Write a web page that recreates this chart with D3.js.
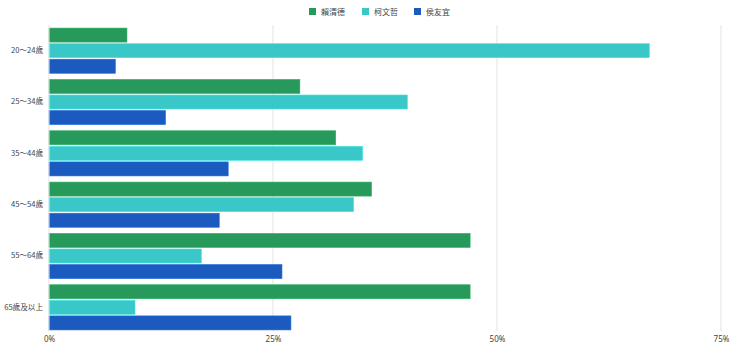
<!DOCTYPE html>
<html>
<head>
<meta charset="utf-8">
<script src="https://cdn.jsdelivr.net/npm/d3@7"></script>
<style>
  html, body { margin: 0; padding: 0; background: #fff; }
  svg { display: block; font-family: "Noto Sans CJK TC", "Noto Sans", sans-serif; }
</style>
</head>
<body>
<svg id="chart" width="740" height="349"></svg>
<script>
// Age groups and vote share (%) for each candidate
const ageGroups = ["20～24歲", "25～34歲", "35～44歲", "45～54歲", "55～64歲", "65歲及以上"];
const candidates = ["賴清德", "柯文哲", "侯友宜"];
const laiShare = [8.7, 28, 32, 36, 47, 47];
const koShare  = [67, 40, 35, 34, 17, 9.6];
const houShare = [7.4, 13, 20, 19, 26, 27];
const xTicks = [0, 25, 50, 75];
const colors = ["#27995a", "#3ac7c7", "#1b5bbf"];

const series = [laiShare, koShare, houShare];
const rows = ageGroups.map((g, i) => ({ group: g, values: series.map(s => s[i]) }));

const svg = d3.select("#chart");
const margin = { top: 25, right: 19, bottom: 16, left: 49 };
const W = 740, H = 349;

const x = d3.scaleLinear().domain([0, 75]).range([margin.left, W - margin.right]);
const y0 = d3.scaleBand().domain(ageGroups).range([margin.top, H - margin.bottom]).paddingInner(0.12).paddingOuter(0.06);
const y1 = d3.scaleBand().domain(candidates).range([0, y0.bandwidth()]).paddingInner(0.1);

// vertical gridlines
svg.append("g")
  .selectAll("line")
  .data(xTicks.filter(t => t > 0))
  .join("line")
  .attr("x1", d => x(d)).attr("x2", d => x(d))
  .attr("y1", margin.top).attr("y2", H - margin.bottom - 2)
  .attr("stroke", "#e3e3e3").attr("stroke-width", 1);

// bars
const groups = svg.append("g")
  .selectAll("g")
  .data(rows)
  .join("g")
  .attr("transform", d => `translate(0,${y0(d.group)})`);

groups.selectAll("rect")
  .data(d => d.values.map((v, j) => ({ name: candidates[j], v, j })))
  .join("rect")
  .attr("x", x(0))
  .attr("y", d => y1(d.name))
  .attr("width", d => x(d.v) - x(0))
  .attr("height", y1.bandwidth())
  .attr("fill", d => colors[d.j])
  .attr("stroke", d => d3.color(colors[d.j]).brighter(0.4))
  .attr("stroke-width", 0.6);

// baseline
svg.append("line")
  .attr("x1", x(0)).attr("x2", x(0))
  .attr("y1", margin.top).attr("y2", H - margin.bottom - 2)
  .attr("stroke", "#e3e3e3");

// y axis labels
const yAxis = d3.axisLeft(y0).tickSize(0).tickPadding(6);
svg.append("g")
  .attr("transform", `translate(${x(0)},0)`)
  .call(yAxis)
  .call(g => g.select(".domain").remove())
  .selectAll("text")
  .attr("font-size", 7.6)
  .attr("fill", "#444")
  .attr("font-family", "'Noto Sans CJK TC', sans-serif");

// x axis labels
const xAxis = d3.axisBottom(x).tickValues(xTicks).tickFormat(d => d + "%").tickSize(0).tickPadding(0);
svg.append("g")
  .attr("transform", `translate(0,${H - 13})`)
  .call(xAxis)
  .call(g => g.select(".domain").remove())
  .selectAll("text")
  .attr("font-size", 8)
  .attr("fill", "#444")
  .attr("font-family", "'Noto Sans', sans-serif");

// legend
const legendX = [309, 362, 414];
const legend = svg.append("g")
  .selectAll("g")
  .data(candidates)
  .join("g")
  .attr("transform", (d, i) => `translate(${legendX[i]},8)`);
legend.append("rect")
  .attr("width", 7).attr("height", 7)
  .attr("fill", (d, i) => colors[i]);
legend.append("text")
  .attr("x", 12).attr("y", 6.5)
  .attr("font-size", 8)
  .attr("fill", "#444")
  .text(d => d);
</script>
</body>
</html>
